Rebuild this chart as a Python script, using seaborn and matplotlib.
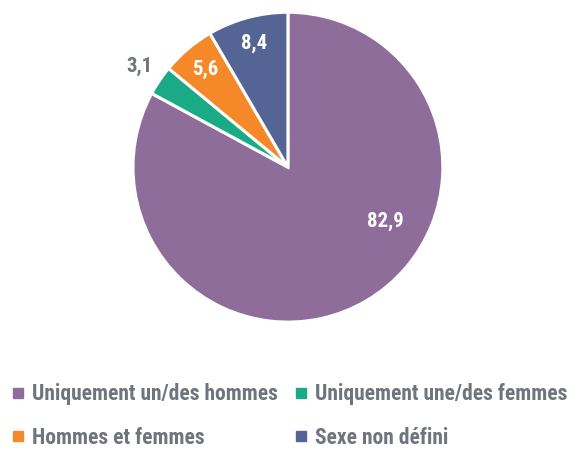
import numpy as np
import matplotlib.pyplot as plt
import seaborn as sns
from matplotlib import font_manager
from matplotlib.lines import Line2D

# Data from the image
categories = ['Uniquement un/des hommes', 'Uniquement une/des femmes',
              'Hommes et femmes', 'Sexe non défini']
values = [82.9, 3.1, 5.6, 8.4]
value_labels = ['82,9', '3,1', '5,6', '8,4']
colors = ['#8F6D9A', '#1AAA85', '#F5892A', '#546595']
text_gray = '#6E757C'

sns.set_theme(style='white')
names = {f.name for f in font_manager.fontManager.ttflist}
candidates = ['Roboto Condensed', 'Archivo Narrow', 'PT Sans Narrow',
              'Fira Sans Condensed', 'Barlow Semi Condensed', 'Liberation Sans Narrow']
family = next((c for c in candidates if c in names), 'DejaVu Sans')
plt.rcParams['font.family'] = [family, 'DejaVu Sans']

fig = plt.figure(figsize=(5.77, 4.5), dpi=100)
ax = fig.add_axes([0.2305, 0.284, 0.537, 0.689])

wedges, _ = ax.pie(values, colors=colors, startangle=90, counterclock=False,
                   radius=1, wedgeprops=dict(edgecolor='white', linewidth=2.2))
ax.set_xlim(-1, 1)
ax.set_ylim(-1, 1)
ax.set_aspect('equal')
ax.axis('off')

for w, lab, v in zip(wedges, value_labels, values):
    mid = (w.theta1 + w.theta2) / 2
    if v > 50:
        # big slice label sits higher on the right, as in the original
        mid += 30
        r, col = 0.72, 'white'
    elif v < 4:
        r, col = 1.16, text_gray
    else:
        r, col = 0.83, 'white'
    ang = np.deg2rad(mid)
    ax.text(r * np.cos(ang), r * np.sin(ang), lab, ha='center', va='center',
            color=col, fontsize=15, fontweight='bold')

handles = [Line2D([], [], marker='s', linestyle='', markersize=6.5,
                  markerfacecolor=c, markeredgecolor=c) for c in colors]
order = [0, 2, 1, 3]
leg = fig.legend([handles[i] for i in order], [categories[i] for i in order],
                 ncol=2, loc='center', bbox_to_anchor=(0.5, 0.076),
                 frameon=False, fontsize=15.5, handletextpad=0.25, borderpad=0,
                 columnspacing=0.7, labelspacing=1.0, handlelength=0.8)
for t in leg.get_texts():
    t.set_color(text_gray)
    t.set_fontweight('bold')

fig.savefig('out.png', dpi=100)
